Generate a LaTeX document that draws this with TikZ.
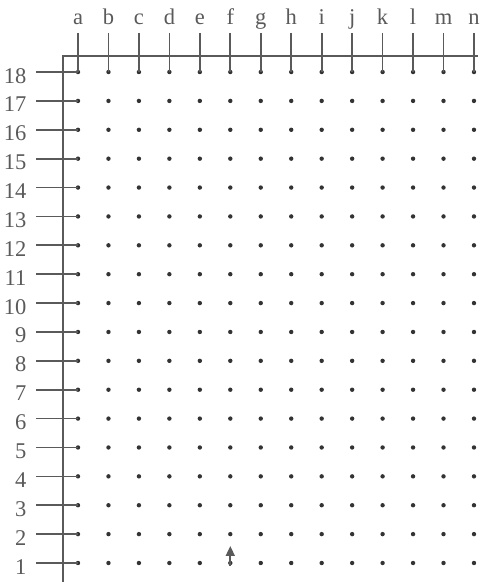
\documentclass[tikz,border=0pt]{standalone}
\usepackage{fontspec}
\setmainfont{Liberation Serif}
\usetikzlibrary{arrows.meta}

\definecolor{inkgray}{HTML}{5A5A5A}
\definecolor{dotgray}{HTML}{333333}

\begin{document}
\begin{tikzpicture}[
      x=1pt, y=1pt,
      gpt/.style={circle, fill=dotgray, inner sep=0pt, minimum size=4.4pt},
      axis/.style={draw=inkgray, line width=1.7pt},
      tick/.style={draw=inkgray, line width=1.7pt},
      lab/.style={font=\fontsize{22.5}{26}\selectfont, text=inkgray, inner sep=0pt},
      move/.style={draw=inkgray, line width=1.7pt,
                   -{Triangle[length=10pt,width=9pt]}},
    ]
    \useasboundingbox (0,0) rectangle (485,582);

    % ---- grid points -----------------------------------------------
    \foreach \c [count=\i] in {a,b,c,d,e,f,g,h,i,j,k,l,m,n} {
      \foreach \r in {1,...,18} {
        \node[gpt] (\c\r) at ({78+30.46*(\i-1)}, {19+28.88*(\r-1)}) {};
      }
    }

    % ---- axes ------------------------------------------------------
    \coordinate (corner) at (63,526.3);
    \coordinate (xend) at (478,526.3);
    \coordinate (yend) at (63,0);
    \draw[axis] (yend) -- (corner) -- (xend);

    % ---- column labels and ticks -----------------------------------
    \foreach \c [count=\i] in {a,b,c,d,e,f,g,h,i,j,k,l,m,n} {
      \coordinate (top-\c) at ({78+30.46*(\i-1)}, 549);
      \node[lab, anchor=base] (lab-\c) at ({78+30.46*(\i-1)}, 557) {\c};
      \draw[tick] (top-\c) -- (\c18.center);
    }

    % ---- row labels and ticks --------------------------------------
    \foreach \r in {1,...,18} {
      \coordinate (left-\r) at (36, {19+28.88*(\r-1)});
      \node[lab, anchor=base east] (lab-\r) at (26.5, {8+28.88*(\r-1)}) {\r};
      \draw[tick] (left-\r) -- (a\r.center);
    }

    % ---- move arrow ------------------------------------------------
    \coordinate (ftip) at ([yshift=17pt]f1.center);
    \draw[move] ([yshift=-3pt]f1.center) -- (ftip);

  \end{tikzpicture}
\end{document}
